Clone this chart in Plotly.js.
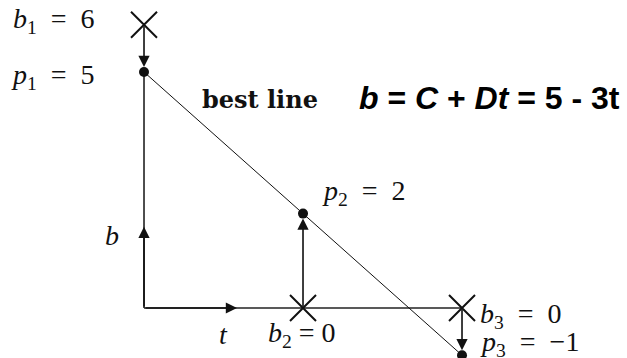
<!DOCTYPE html>
<html>
<head>
<meta charset="utf-8">
<script src="https://cdn.plot.ly/plotly-3.0.1.min.js"></script>
<style>html,body{margin:0;padding:0;background:#fff}</style>
</head>
<body>
<div id="chart" style="width:627px;height:358px"></div>
<script>
// three measurements b at times t, and the projections p on the best line
var t = [0, 1, 2];
var b = [6, 0, 0];
var p = [5, 2, -1];
var C = 5, D = -3;

var serif = 'Liberation Serif, DejaVu Serif, serif';
var sp = '\u00a0';   // keeps the wide spacing round "="

function lbl(x, y, text, anchor, extra) {
    var a = {
        x: x, y: y, xref: 'x', yref: 'y', text: text, showarrow: false,
        xanchor: anchor, yanchor: 'middle',
        font: {family: serif, size: 28, color: '#111'}
    };
    for (var k in extra) a[k] = extra[k];
    return a;
}

function arrow(x0, y0, x1, y1, standoff) {
    return {
        x: x1, y: y1, ax: x0, ay: y0, xref: 'x', yref: 'y', axref: 'x', ayref: 'y',
        text: '', showarrow: true, arrowhead: 2, arrowsize: 1.4, arrowwidth: 1.6,
        arrowcolor: '#111', standoff: standoff || 0
    };
}

function eq(name, sub, val) {
    return '<i>' + name + '</i><sub>' + sub + '</sub>' + sp + ' = ' + sp + val;
}

var data = [
    // axes
    {x: [t[0], t[2]], y: [0, 0], mode: 'lines', line: {color: '#222', width: 1.6}, hoverinfo: 'skip'},
    {x: [t[0], t[0]], y: [0, p[0]], mode: 'lines', line: {color: '#222', width: 1.6}, hoverinfo: 'skip'},
    // best line
    {x: [t[0], t[2]], y: [C + D * t[0], C + D * t[2]], mode: 'lines', line: {color: '#111', width: 1}, hoverinfo: 'skip'},
    // data points b
    {x: t, y: b, mode: 'markers', marker: {symbol: 'x-thin', size: 26, line: {color: '#111', width: 2}}},
    // projections p
    {x: t, y: p, mode: 'markers', marker: {symbol: 'circle', size: 10, color: '#111'}}
];

var annotations = [
    arrow(t[0], b[0], t[0], p[0], 5),
    arrow(t[1], b[1], t[1], p[1], 5),
    arrow(t[2], b[2], t[2], p[2], 5),
    arrow(0, 0, 0.585, 0),
    arrow(0, 0, 0, 1.72),
    lbl(-0.296, 6.1, eq('b', 1, b[0]), 'right'),
    lbl(-0.296, 4.9, eq('p', 1, p[0]), 'right'),
    lbl(0.352, 4.41, '<b>best line</b>', 'left', {font: {family: 'DejaVu Serif, serif', size: 24, color: '#111'}}),
    lbl(1.34, 4.45, '<b><i>b</i> = <i>C</i> + <i>Dt</i> = 5 - 3t</b>', 'left',
        {font: {family: 'Liberation Sans, Arial, sans-serif', size: 32, color: '#000'}}),
    lbl(1.107, 2.44, eq('p', 2, p[1]), 'left'),
    lbl(-0.2, 1.53, '<i>b</i>', 'center'),
    lbl(0.497, -0.57, '<i>t</i>', 'center'),
    lbl(0.994, -0.57, '<i>b</i><sub>2</sub>' + sp + '=' + sp + b[1], 'center'),
    lbl(2.1, -0.15, eq('b', 3, b[2]), 'left'),
    lbl(2.1, -0.76, eq('p', 3, '\u22121'), 'left')
];

var layout = {
    width: 627, height: 358,
    margin: {l: 0, r: 0, t: 0, b: 0},
    paper_bgcolor: '#fff', plot_bgcolor: '#fff',
    showlegend: false,
    xaxis: {range: [-0.9057, 3.0377], visible: false, fixedrange: true},
    yaxis: {range: [-1.059, 6.525], visible: false, fixedrange: true},
    annotations: annotations
};

Plotly.newPlot('chart', data, layout, {staticPlot: true});
</script>
</body>
</html>
